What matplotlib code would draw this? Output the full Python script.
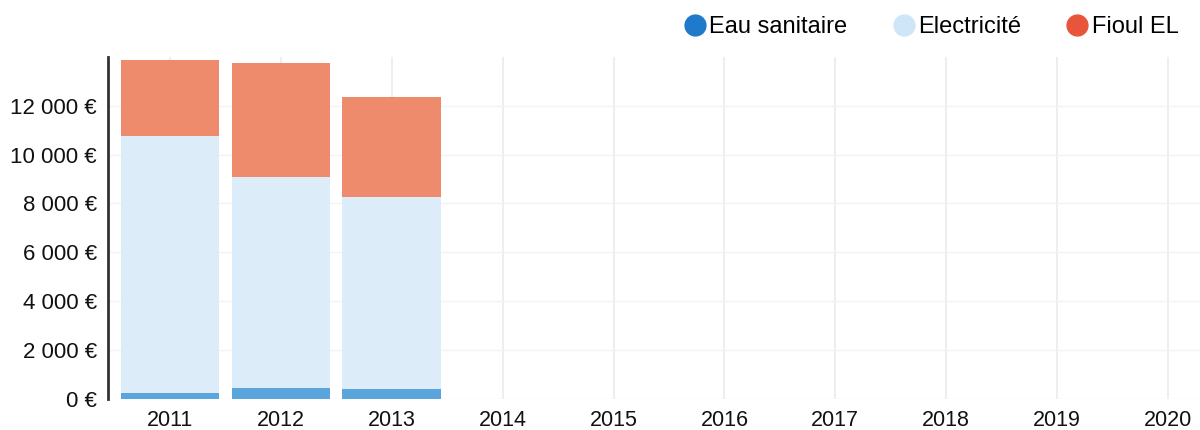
import numpy as np
import matplotlib.pyplot as plt

# donnees (euros)
annees = ['2011', '2012', '2013', '2014', '2015', '2016', '2017', '2018', '2019', '2020']
eau = [250, 450, 400]
electricite = [10500, 8640, 7860]
fioul = [3120, 4640, 4090]

series = ['Eau sanitaire', 'Electricité', 'Fioul EL']
couleurs_legende = ['#1f7acb', '#cfe5f8', '#e9553b']
couleurs_barres = ['#5aa5dc', '#dcecf9', '#ef8b6d']

yticks = [0, 2000, 4000, 6000, 8000, 10000, 12000]

plt.rcParams['font.family'] = ['Liberation Sans', 'DejaVu Sans']

fig = plt.figure(figsize=(12, 4.3), dpi=100)
ax = fig.add_axes([0.09, 0.072, 0.91, 0.796])

x = np.arange(len(annees))
n = len(eau)
bas = np.zeros(n)
for valeurs, c in zip([eau, electricite, fioul], couleurs_barres):
    ax.bar(x[:n], valeurs, bottom=bas, width=0.89, color=c, zorder=2)
    bas = bas + np.array(valeurs)

# grille
ax.set_xticks(x)
ax.set_xticklabels(annees, fontsize=15.5)
ax.set_yticks(yticks)
ax.set_yticklabels([f'{v:,}'.replace(',', ' ') + ' €' for v in yticks], fontsize=16)
ax.grid(axis='x', color='#ebebeb', linewidth=1.2, zorder=0)
ax.grid(axis='y', color='#f3f3f3', linewidth=1.0, zorder=0)
ax.tick_params(length=0, pad=8, colors='#111111')
ax.set_xlim(-0.56, 9.29)
ax.set_ylim(0, 14000)

for s in ['top', 'right', 'bottom']:
    ax.spines[s].set_visible(False)
ax.spines['left'].set_linewidth(2)
ax.spines['left'].set_color('#333333')

# legende en haut a droite
handles = [plt.Line2D([], [], marker='o', linestyle='', markersize=15,
                      markerfacecolor=c, markeredgecolor=c) for c in couleurs_legende]
fig.legend(handles, series, loc='upper right', bbox_to_anchor=(0.982, 0.962),
           ncol=3, frameon=False, fontsize=17, handletextpad=0.1,
           columnspacing=1.9, handlelength=1.0, borderpad=0, borderaxespad=0)

fig.savefig('out.png', dpi=100)
